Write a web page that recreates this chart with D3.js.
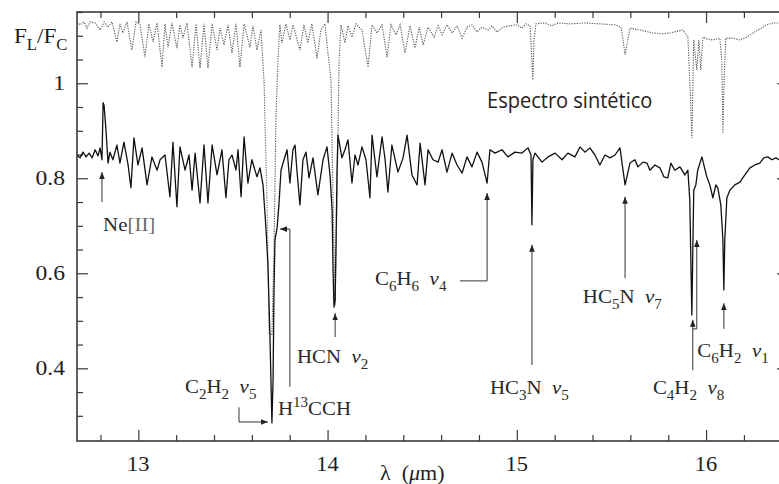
<!DOCTYPE html>
<html>
<head>
<meta charset="utf-8">
<script src="https://cdn.jsdelivr.net/npm/d3@7"></script>
<style>
  html, body { margin: 0; padding: 0; background: #fff; overflow: hidden; }
</style>
</head>
<body>
<svg id="chart" width="779" height="484"></svg>
<script>
// observed ISO spectrum, [wavelength (um), F_L/F_C]
const observed = [
  [12.676,0.849],[12.692,0.843],[12.708,0.855],[12.724,0.845],[12.740,0.853],[12.756,0.843],
  [12.772,0.860],[12.787,0.847],[12.798,0.864],[12.808,0.839],[12.814,0.959],[12.819,0.954],
  [12.829,0.902],[12.840,0.832],[12.850,0.855],[12.866,0.839],[12.887,0.870],[12.903,0.832],
  [12.924,0.876],[12.946,0.828],[12.961,0.780],[12.977,0.885],[12.998,0.828],[13.020,0.864],
  [13.046,0.786],[13.072,0.845],[13.099,0.817],[13.115,0.839],[13.141,0.849],[13.167,0.761],
  [13.183,0.876],[13.204,0.740],[13.220,0.866],[13.247,0.817],[13.268,0.849],[13.284,0.775],
  [13.300,0.853],[13.326,0.748],[13.347,0.870],[13.368,0.748],[13.390,0.870],[13.416,0.807],
  [13.442,0.860],[13.463,0.759],[13.479,0.839],[13.495,0.849],[13.516,0.817],[13.527,0.860],
  [13.543,0.761],[13.559,0.887],[13.579,0.790],[13.600,0.839],[13.627,0.803],[13.643,0.822],
  [13.659,0.786],[13.675,0.691],[13.685,0.617],[13.696,0.460],[13.706,0.285],[13.712,0.375],
  [13.717,0.565],[13.722,0.670],[13.733,0.695],[13.743,0.744],[13.754,0.817],[13.770,0.839],
  [13.786,0.860],[13.801,0.790],[13.817,0.860],[13.828,0.870],[13.838,0.817],[13.854,0.744],
  [13.870,0.839],[13.886,0.855],[13.902,0.801],[13.923,0.843],[13.949,0.765],[13.976,0.839],
  [13.997,0.866],[14.013,0.807],[14.024,0.733],[14.029,0.607],[14.034,0.529],[14.040,0.544],
  [14.045,0.670],[14.050,0.817],[14.055,0.891],[14.076,0.843],[14.092,0.860],[14.108,0.881],
  [14.129,0.790],[14.145,0.849],[14.161,0.828],[14.182,0.866],[14.203,0.839],[14.224,0.759],
  [14.235,0.891],[14.261,0.803],[14.288,0.887],[14.304,0.839],[14.319,0.771],[14.340,0.870],
  [14.372,0.813],[14.399,0.843],[14.420,0.891],[14.446,0.807],[14.473,0.786],[14.489,0.874],
  [14.515,0.786],[14.531,0.860],[14.557,0.839],[14.584,0.834],[14.605,0.860],[14.631,0.813],
  [14.658,0.853],[14.684,0.828],[14.711,0.811],[14.737,0.845],[14.763,0.824],[14.790,0.855],
  [14.816,0.834],[14.843,0.790],[14.858,0.860],[14.885,0.853],[14.922,0.860],[14.953,0.845],
  [14.990,0.855],[15.027,0.853],[15.059,0.864],[15.075,0.849],[15.080,0.702],[15.085,0.839],
  [15.096,0.853],[15.133,0.834],[15.165,0.845],[15.202,0.853],[15.239,0.839],[15.270,0.853],
  [15.307,0.845],[15.334,0.866],[15.360,0.855],[15.386,0.864],[15.413,0.849],[15.439,0.828],
  [15.466,0.849],[15.492,0.843],[15.519,0.849],[15.545,0.864],[15.572,0.786],[15.598,0.832],
  [15.624,0.839],[15.640,0.824],[15.667,0.834],[15.688,0.832],[15.703,0.817],[15.730,0.828],
  [15.756,0.822],[15.777,0.803],[15.798,0.801],[15.814,0.832],[15.835,0.817],[15.862,0.824],
  [15.888,0.807],[15.904,0.817],[15.914,0.754],[15.925,0.512],[15.930,0.649],[15.935,0.775],
  [15.946,0.786],[15.956,0.817],[15.978,0.845],[16.004,0.803],[16.020,0.786],[16.036,0.759],
  [16.052,0.786],[16.062,0.780],[16.078,0.744],[16.089,0.670],[16.094,0.565],[16.099,0.670],
  [16.110,0.759],[16.126,0.775],[16.152,0.786],[16.179,0.792],[16.205,0.807],[16.232,0.822],
  [16.258,0.828],[16.284,0.832],[16.305,0.843],[16.326,0.845],[16.348,0.839],[16.369,0.843],
  [16.385,0.839]
];

// synthetic spectrum (offset above the data in the figure)
const synthetic = [
  [12.676,1.129],[12.692,1.123],[12.713,1.129],[12.729,1.116],[12.745,1.129],[12.772,1.127],
  [12.798,1.112],[12.819,1.129],[12.840,1.118],[12.861,1.129],[12.887,1.087],[12.903,1.125],
  [12.919,1.106],[12.940,1.129],[12.966,1.070],[12.988,1.129],[13.009,1.123],[13.035,1.055],
  [13.056,1.125],[13.078,1.087],[13.099,1.127],[13.125,1.034],[13.141,1.125],[13.157,1.076],
  [13.178,1.127],[13.204,1.074],[13.220,1.123],[13.236,1.095],[13.257,1.127],[13.284,1.034],
  [13.305,1.125],[13.326,1.032],[13.347,1.125],[13.368,1.032],[13.390,1.125],[13.416,1.070],
  [13.432,1.116],[13.453,1.081],[13.474,1.123],[13.495,1.064],[13.516,1.125],[13.537,1.034],
  [13.559,1.125],[13.590,1.076],[13.606,1.121],[13.627,1.070],[13.648,1.112],[13.664,1.007],
  [13.680,0.754],[13.691,0.474],[13.706,0.470],[13.717,0.649],[13.727,0.923],[13.738,1.049],
  [13.748,1.123],[13.759,1.085],[13.780,1.125],[13.801,1.091],[13.817,1.123],[13.854,1.070],
  [13.875,1.123],[13.896,1.085],[13.917,1.125],[13.944,1.053],[13.965,1.112],[13.986,1.125],
  [14.002,1.064],[14.018,1.007],[14.029,0.754],[14.040,0.533],[14.050,0.754],[14.061,1.049],
  [14.071,1.123],[14.092,1.085],[14.108,1.121],[14.129,1.097],[14.150,1.125],[14.182,1.112],
  [14.214,1.034],[14.235,1.123],[14.261,1.106],[14.288,1.123],[14.314,1.055],[14.335,1.123],
  [14.362,1.102],[14.383,1.123],[14.409,1.064],[14.436,1.121],[14.462,1.074],[14.484,1.118],
  [14.505,1.081],[14.531,1.118],[14.563,1.097],[14.584,1.121],[14.605,1.102],[14.631,1.123],
  [14.658,1.106],[14.684,1.121],[14.711,1.095],[14.737,1.118],[14.763,1.123],[14.790,1.108],
  [14.816,1.118],[14.848,1.112],[14.869,1.121],[14.895,1.108],[14.927,1.118],[14.964,1.121],
  [15.001,1.123],[15.027,1.116],[15.048,1.125],[15.070,1.121],[15.080,1.049],[15.085,1.007],
  [15.091,1.091],[15.101,1.125],[15.149,1.127],[15.186,1.121],[15.217,1.127],[15.281,1.125],
  [15.360,1.127],[15.439,1.125],[15.519,1.123],[15.551,1.118],[15.561,1.091],[15.572,1.060],
  [15.582,1.081],[15.598,1.116],[15.651,1.112],[15.719,1.106],[15.767,1.104],[15.809,1.106],
  [15.878,1.112],[15.904,1.097],[15.914,1.007],[15.925,0.885],[15.930,0.986],[15.935,1.091],
  [15.951,1.028],[15.962,1.091],[15.972,1.028],[15.983,1.097],[16.009,1.093],[16.036,1.091],
  [16.073,1.095],[16.083,1.049],[16.089,0.895],[16.094,0.986],[16.104,1.095],[16.141,1.095],
  [16.179,1.091],[16.216,1.097],[16.247,1.106],[16.284,1.114],[16.321,1.123],[16.353,1.127],
  [16.385,1.127]
];

const xMajor = [13, 14, 15, 16];
const yMajor = [0.4, 0.6, 0.8, 1];
const yLabels = ['0.4', '0.6', '0.8', '1'];

// line identifications: text pieces + pointer path, all in data units
const idents = [
  { at: [12.814, 0.689], parts: [['Ne'], ['[II]', 'br']], path: [[12.808, 0.750], [12.808, 0.813]] },
  { at: [13.247, 0.348], parts: [['C'], ['2', 'sub'], ['H'], ['2', 'sub'], ['\u00a0\u00a0'], ['\u03bd', 'it'], ['5', 'sub']],
    path: [[13.532, 0.318], [13.532, 0.287], [13.685, 0.287]] },
  { at: [13.738, 0.302], parts: [['H'], ['13', 'sup'], ['CCH']],
    path: [[13.801, 0.361], [13.801, 0.693], [13.749, 0.693]] },
  { at: [13.838, 0.411], parts: [['HCN\u00a0\u00a0'], ['\u03bd', 'it'], ['2', 'sub']], path: [[14.040, 0.466], [14.040, 0.516]] },
  { at: [14.251, 0.575], parts: [['C'], ['6', 'sub'], ['H'], ['6', 'sub'], ['\u00a0\u00a0'], ['\u03bd', 'it'], ['4', 'sub']],
    path: [[14.700, 0.584], [14.843, 0.584], [14.843, 0.769]] },
  { at: [14.858, 0.346], parts: [['HC'], ['3', 'sub'], ['N\u00a0\u00a0'], ['\u03bd', 'it'], ['5', 'sub']], path: [[15.080, 0.407], [15.080, 0.660]] },
  { at: [15.349, 0.537], parts: [['HC'], ['5', 'sub'], ['N\u00a0\u00a0'], ['\u03bd', 'it'], ['7', 'sub']], path: [[15.572, 0.590], [15.572, 0.761]] },
  { at: [15.719, 0.346], parts: [['C'], ['4', 'sub'], ['H'], ['2', 'sub'], ['\u00a0\u00a0'], ['\u03bd', 'it'], ['8', 'sub']], path: [[15.930, 0.396], [15.930, 0.502]] },
  { at: [15.954, 0.424], parts: [['C'], ['6', 'sub'], ['H'], ['2', 'sub'], ['\u00a0\u00a0'], ['\u03bd', 'it'], ['1', 'sub']], path: [[15.930, 0.483], [15.951, 0.483], [15.951, 0.670]] },
  { at: null, parts: [], path: [[16.094, 0.483], [16.094, 0.537]] }
];

const W = 779, H = 484;
const margin = { left: 77, right: -9, top: 12, bottom: 43 };
const serif = '"Liberation Serif", "DejaVu Serif", serif';
const ink = '#1e1e1e';
const axisInk = '#3a3a3a';

const svg = d3.select('#chart');

const x = d3.scaleLinear()
  .domain([12.676, 16.433])
  .range([margin.left, W - margin.right]);

const y = d3.scaleLinear()
  .domain([0.247, 1.150])
  .range([H - margin.bottom, margin.top]);

svg.append('defs').append('clipPath').attr('id', 'plotClip')
  .append('rect')
  .attr('x', x.range()[0]).attr('y', y.range()[1])
  .attr('width', x.range()[1] - x.range()[0])
  .attr('height', y.range()[0] - y.range()[1]);

// ticks, all pointing into the frame
const xTicks = d3.range(64, 83).map((d) => d / 5);
const yTicks = d3.range(6, 24).map((d) => d / 20);
const xMinor = xTicks.filter((d) => !xMajor.some((m) => Math.abs(m - d) < 1e-6));
const yMinor = yTicks.filter((d) => !yMajor.some((m) => Math.abs(m - d) < 1e-6));

function tickLayer(axis, transform) {
  svg.append('g')
    .attr('transform', transform)
    .call(axis)
    .call((g) => g.select('.domain').remove())
    .call((g) => g.selectAll('text').remove())
    .call((g) => g.selectAll('line').attr('stroke', axisInk).attr('stroke-width', 1.2));
}

const yb = y.range()[0], yt = y.range()[1];
const xl = x.range()[0], xr = x.range()[1];

tickLayer(d3.axisBottom(x).tickValues(xMinor).tickSize(-6), `translate(0,${yb})`);
tickLayer(d3.axisBottom(x).tickValues(xMajor).tickSize(-11), `translate(0,${yb})`);
tickLayer(d3.axisTop(x).tickValues(xMinor).tickSize(-6), `translate(0,${yt})`);
tickLayer(d3.axisTop(x).tickValues(xMajor).tickSize(-11), `translate(0,${yt})`);
tickLayer(d3.axisLeft(y).tickValues(yMinor).tickSize(-6), `translate(${xl},0)`);
tickLayer(d3.axisLeft(y).tickValues(yMajor).tickSize(-11), `translate(${xl},0)`);
tickLayer(d3.axisRight(y).tickValues(yMinor).tickSize(-6), `translate(${xr},0)`);
tickLayer(d3.axisRight(y).tickValues(yMajor).tickSize(-11), `translate(${xr},0)`);

svg.append('rect')
  .attr('x', xl).attr('y', yt)
  .attr('width', xr - xl).attr('height', yb - yt)
  .attr('fill', 'none')
  .attr('stroke', axisInk)
  .attr('stroke-width', 1.6);

// text with sub/superscripts, slightly stretched like the scanned figure
function richText(px, py, parts, opts = {}) {
  const fs = opts.size || 19;
  const t = svg.append('text')
    .attr('transform', `translate(${px},${py}) scale(${opts.sx || 1.1},1)`)
    .attr('font-family', opts.family || serif)
    .attr('font-size', fs)
    .attr('fill', opts.fill || ink)
    .attr('text-anchor', opts.anchor || 'start');
  let shift = 0;
  parts.forEach(([s, kind]) => {
    const sp = t.append('tspan').text(s);
    let target = 0;
    if (kind === 'sub') target = fs * 0.3;
    if (kind === 'sup') target = -fs * 0.42;
    if (target !== shift) sp.attr('dy', target - shift);
    shift = target;
    if (kind === 'sub' || kind === 'sup') sp.attr('font-size', fs * 0.72);
    if (kind === 'it') sp.attr('font-style', 'italic');
    if (kind === 'br') sp.attr('fill', '#6a6a6a');
  });
  return t;
}

// tick labels
yMajor.forEach((v, i) => {
  richText(65, y(v) + 7, [[yLabels[i]]], { size: 20, sx: 1.18, anchor: 'end' });
});
xMajor.forEach((v) => {
  richText(x(v), 471, [[String(v)]], { size: 20, sx: 1.12, anchor: 'middle' });
});

// axis titles
richText(380, 480, [['\u03bb\u00a0\u00a0('], ['\u03bc', 'it'], ['m)']], { size: 20, sx: 1.1 });
richText(14, 43, [['F'], ['L', 'sub'], ['/F'], ['C', 'sub']], { size: 22, sx: 1.05 });

// spectra
const line = d3.line()
  .x((d) => x(d[0]))
  .y((d) => y(d[1]));

const plot = svg.append('g').attr('clip-path', 'url(#plotClip)');

plot.append('path')
  .datum(synthetic)
  .attr('d', line)
  .attr('fill', 'none')
  .attr('stroke', '#555')
  .attr('stroke-width', 1.1)
  .attr('stroke-dasharray', '1.2,1.3');

plot.append('path')
  .datum(observed)
  .attr('d', line)
  .attr('fill', 'none')
  .attr('stroke', '#111')
  .attr('stroke-width', 1.3)
  .attr('stroke-linejoin', 'round');

// pointer arrows
const marker = svg.select('defs').append('marker')
  .attr('id', 'head')
  .attr('viewBox', '0 0 10 10')
  .attr('refX', 10).attr('refY', 5)
  .attr('markerWidth', 7).attr('markerHeight', 7)
  .attr('markerUnits', 'userSpaceOnUse')
  .attr('orient', 'auto');
marker.append('path').attr('d', 'M0,1 L10,5 L0,9 Z').attr('fill', '#222');

idents.forEach((a) => {
  svg.append('path')
    .datum(a.path)
    .attr('d', line)
    .attr('fill', 'none')
    .attr('stroke', '#333')
    .attr('stroke-width', 1)
    .attr('marker-end', 'url(#head)');
  if (a.at) richText(x(a.at[0]), y(a.at[1]), a.parts, { size: 19, sx: 1.1, fill: '#2a2a2a' });
});

richText(x(14.843), y(0.948), [['Espectro sint\u00e9tico']],
  { size: 22, sx: 0.91, family: '"Open Sans", "Noto Sans", sans-serif', fill: '#222' });
</script>
</body>
</html>
